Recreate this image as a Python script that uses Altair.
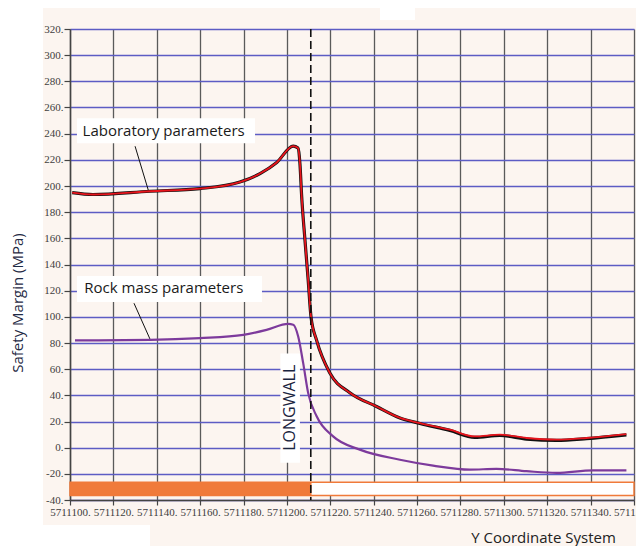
import altair as alt
import pandas as pd

# ---------------- data ----------------
x_ticks = [5711100, 5711120, 5711140, 5711160, 5711180, 5711200, 5711220,
           5711240, 5711260, 5711280, 5711300, 5711320, 5711340, 5711360]
y_ticks = [-40, -20, 0, 20, 40, 60, 80, 100, 120, 140, 160, 180, 200,
           220, 240, 260, 280, 300, 320]

lab_x = [5711101.0, 5711110.6, 5711136.9, 5711159.9, 5711178.3, 5711187.6,
         5711195.3, 5711202.9, 5711205.1, 5711206.0, 5711206.8, 5711208.3,
         5711209.8, 5711211.1, 5711213.7, 5711219.8, 5711229.0, 5711241.3,
         5711252.1, 5711261.3, 5711275.1, 5711286.6, 5711298.2, 5711310.5,
         5711324.3, 5711338.1, 5711356.5]
lab_red = [195, 193.5, 196, 198, 203, 209.5, 218, 230.5, 229, 217, 192, 159,
           128, 100, 82, 57, 42, 31.5, 22.7, 18.8, 13.7, 8.6, 9.9, 7.4, 6.1,
           7.4, 10.4]
lab_black = [195, 193.5, 196, 198, 203, 209.5, 218, 230.5, 229, 217, 192, 159,
             128, 100, 82, 57, 42, 31.5, 22.7, 18.5, 13.2, 7.8, 9.3, 6.6, 5.6,
             6.9, 9.8]

rock_x = [5711102.3, 5711136.9, 5711159.9, 5711179.9, 5711190.6, 5711200.6,
          5711202.9, 5711205.2, 5711207.5, 5711209.8, 5711213.7, 5711221.3,
          5711233.6, 5711252.1, 5711267.4, 5711284.3, 5711296.6, 5711310.4,
          5711324.3, 5711341.1, 5711356.5]
rock_y = [82, 82.4, 83.7, 86.2, 90, 94.6, 94, 85, 64.6, 41.7, 24, 8.6, -1.5,
          -9.2, -13.7, -16.8, -16.2, -18, -19.3, -17.3, -17.3]

longwall_x = [5711211]
bar_y = [-26.5, -36.6]

ann_text = ["Laboratory parameters", "Rock mass parameters"]
ann_tx = [5711105.8, 5711106.6]
ann_ty = [241.8, 122.0]
ann_box_x = [5711103.2, 5711103.2]
ann_box_x2 = [5711185.3, 5711188.5]
ann_box_y = [251.7, 131.2]
ann_box_y2 = [232.6, 111.4]
lead_x = [5711130.0, 5711129.5]
lead_y = [230.4, 110.4]
lead_x2 = [5711136.1, 5711137.2]
lead_y2 = [196.8, 81.8]

lw_label = ["LONGWALL"]
lw_tx = [5711201.6]
lw_ty = [30.5]
lw_box = [5711197.0, 5711206.0, 72.0, -11.5]

y_title = ["Safety Margin (MPa)"]

# ---------------- frames ----------------
lab_df = pd.DataFrame({"x": lab_x, "red": lab_red, "black": lab_black})
rock_df = pd.DataFrame({"x": rock_x, "y": rock_y})
ann_df = pd.DataFrame({"t": ann_text, "x": ann_tx, "y": ann_ty,
                       "bx": ann_box_x, "bx2": ann_box_x2,
                       "by": ann_box_y, "by2": ann_box_y2,
                       "lx": lead_x, "ly": lead_y, "lx2": lead_x2, "ly2": lead_y2})
bars_df = pd.DataFrame({"x": [x_ticks[0], longwall_x[0]],
                        "x2": [longwall_x[0], x_ticks[-1]],
                        "y": [bar_y[0], bar_y[0]], "y2": [bar_y[1], bar_y[1]],
                        "kind": ["fill", "outline"]})
lw_df = pd.DataFrame({"t": lw_label, "x": lw_tx, "y": lw_ty,
                      "bx": [lw_box[0]], "bx2": [lw_box[1]],
                      "by": [lw_box[2]], "by2": [lw_box[3]]})
rule_df = pd.DataFrame({"x": longwall_x})

BG = "#fcf5f0"
LABEL_FONT = "Liberation Sans Narrow"
TEXT_FONT = "Open Sans"

xscale = alt.Scale(domain=[x_ticks[0], x_ticks[-1]], nice=False, zero=False)
yscale = alt.Scale(domain=[y_ticks[0], y_ticks[-1]], nice=False, zero=False)

xaxis = alt.Axis(values=x_ticks, labelExpr="format(datum.value, 'd') + '.'",
                 grid=True, gridColor="#5a5a5a", gridWidth=1.3,
                 tickColor="#444", tickSize=5, tickWidth=1.2,
                 domainColor="#444", domainWidth=1.5,
                 labelFont=LABEL_FONT, labelFontSize=11, labelColor="#404040",
                 labelPadding=1, labelOverlap=False, labelFlush=False, labelBound=False,
                 title="Y Coordinate System", titleFont=TEXT_FONT, titleFontSize=15,
                 titleFontWeight="normal", titleColor="#222",
                 titleX=473, titleY=37, titleAlign="center", titleBaseline="middle")
yaxis = alt.Axis(values=y_ticks, labelExpr="datum.value + '.'",
                 grid=True, gridColor="#5c5cc4", gridWidth=1.3,
                 tickColor="#444", tickSize=6, tickWidth=1.2,
                 domainColor="#444", domainWidth=1.5,
                 labelFont=LABEL_FONT, labelFontSize=11, labelColor="#404040",
                 labelPadding=1, labelOverlap=False, labelFlush=False,
                 title=None)

X = lambda f: alt.X(f, type="quantitative", scale=xscale, axis=xaxis)
Y = lambda f: alt.Y(f, type="quantitative", scale=yscale, axis=yaxis)

one = alt.Data(values=[{}])
# white page regions outside the plot area (pixel-positioned decoration)
white_left = alt.Chart(one).mark_rect(color="white").encode(
    x=alt.value(-70), x2=alt.value(-27), y=alt.value(-30), y2=alt.value(530))
white_bl = alt.Chart(one).mark_rect(color="white").encode(
    x=alt.value(-70), x2=alt.value(80), y=alt.value(496), y2=alt.value(530))
white_top = alt.Chart(one).mark_rect(color="white").encode(
    x=alt.value(310), x2=alt.value(345), y=alt.value(-30), y2=alt.value(-9))

ytitle = alt.Chart(pd.DataFrame({"t": y_title})).mark_text(
    angle=270, align="center", baseline="middle", font=TEXT_FONT, fontSize=15,
    color="#1f2a44").encode(x=alt.value(-52), y=alt.value(274), text="t:N")

black_line = alt.Chart(lab_df).mark_line(color="#111", strokeWidth=3.2,
                                         interpolate="monotone").encode(
    x=X("x"), y=Y("black"))
red_line = alt.Chart(lab_df).mark_line(color="#e8141c", strokeWidth=1.8,
                                       interpolate="monotone").encode(
    x=X("x"), y=Y("red"))
rock_line = alt.Chart(rock_df).mark_line(color="#7d3a9c", strokeWidth=2.2,
                                         interpolate="monotone").encode(
    x=X("x"), y=Y("y"))

bars = alt.Chart(bars_df).mark_rect(strokeWidth=1.5).encode(
    x=X("x"), x2="x2", y=Y("y"), y2="y2",
    fill=alt.Fill("kind:N", scale=alt.Scale(domain=["fill", "outline"],
                                            range=["#f07a3a", "white"]), legend=None),
    stroke=alt.value("#f07a3a"))

rule = alt.Chart(rule_df).mark_rule(color="#111", strokeWidth=1.6,
                                    strokeDash=[8, 4]).encode(x=X("x"))

ann_boxes = alt.Chart(ann_df).mark_rect(color="white").encode(
    x=X("bx"), x2="bx2", y=Y("by"), y2="by2")
ann_text_l = alt.Chart(ann_df).mark_text(align="left", baseline="middle",
                                         font=TEXT_FONT, fontSize=15,
                                         color="#1a1a1a").encode(
    x=X("x"), y=Y("y"), text="t:N")
leaders = alt.Chart(ann_df).mark_rule(color="#111", strokeWidth=1).encode(
    x=X("lx"), y=Y("ly"), x2="lx2", y2="ly2")

lw_boxm = alt.Chart(lw_df).mark_rect(color="white").encode(
    x=X("bx"), x2="bx2", y=Y("by"), y2="by2")
lw_text = alt.Chart(lw_df).mark_text(angle=270, align="center", baseline="middle",
                                     font=TEXT_FONT, fontSize=16,
                                     color="#1a2440").encode(
    x=X("x"), y=Y("y"), text="t:N")

chart = alt.layer(
    white_left, white_bl, white_top, ytitle,
    bars, ann_boxes, lw_boxm, leaders,
    black_line, red_line, rock_line, rule,
    ann_text_l, lw_text
).properties(
    width=564, height=471,
    autosize=alt.AutoSizeParams(type="none"),
    padding={"left": 62, "top": 21, "right": 2, "bottom": 46},
    background=BG,
).configure_view(fill=BG, stroke=None)

chart.save("out.html", embed_options={"renderer": "svg", "actions": False})
